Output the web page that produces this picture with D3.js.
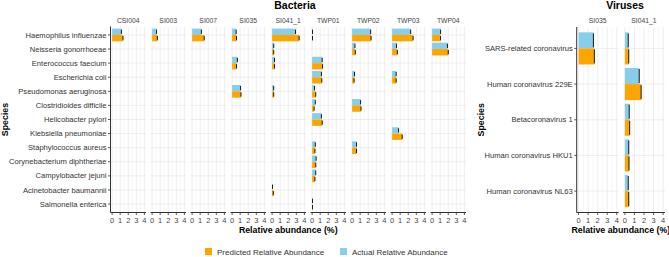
<!DOCTYPE html>
<html>
<head>
<meta charset="utf-8">
<script src="https://cdn.jsdelivr.net/npm/d3@7"></script>
<style>
  body { margin: 0; background: #fff; }
  svg { display: block; font-family: "Liberation Sans", Arial, sans-serif; }
</style>
</head>
<body>
<script>
// ---- data ----
const bacteriaSpecies = ["Haemophilus influenzae", "Neisseria gonorrhoeae", "Enterococcus faecium",
  "Escherichia coli", "Pseudomonas aeruginosa", "Clostridioides difficile", "Helicobacter pylori",
  "Klebsiella pneumoniae", "Staphylococcus aureus", "Corynebacterium diphtheriae",
  "Campylobacter jejuni", "Acinetobacter baumannii", "Salmonella enterica"];
const bacteriaSamples = ["CSI004", "SI003", "SI007", "SI035", "SI041_1", "TWP01", "TWP02", "TWP03", "TWP04"];
// one row per sample, one value per species (null = not detected)
const bacteriaActual = [
  [1.15, null, null, null, null, null, null, null, null, null, null, null, null],
  [0.55, null, null, null, null, null, null, null, null, null, null, null, null],
  [1.15, null, null, null, null, null, null, null, null, null, null, null, null],
  [0.5, null, 0.65, null, 1.05, null, null, null, null, null, null, null, null],
  [2.9, 0.2, 0.3, null, 0.2, null, null, null, null, null, null, 0.05, null],
  [0.05, null, 1.25, 1.15, 0.3, 0.4, 1.15, null, 0.4, 0.5, 0.45, null, 0.05],
  [2.3, 0.35, null, 0.3, null, 1.05, null, null, 0.55, null, null, null, null],
  [2.3, 0.55, null, 0.5, null, null, null, 0.8, null, null, null, null, null],
  [1.05, 1.9, null, null, null, null, null, null, null, null, null, null, null]
];
const bacteriaPredicted = [
  [1.35, null, null, null, null, null, null, null, null, null, null, null, null],
  [0.65, null, null, null, null, null, null, null, null, null, null, null, null],
  [1.5, null, null, null, null, null, null, null, null, null, null, null, null],
  [0.55, null, 0.55, null, 1.1, null, null, null, null, null, null, null, null],
  [3.35, 0.2, 0.3, null, 0.2, null, null, null, null, null, null, 0.15, null],
  [0.05, null, 1.3, 1.2, 0.45, 0.25, 1.25, null, 0.35, 0.45, 0.35, null, 0.05],
  [2.35, 0.4, null, 0.25, null, 1.1, null, null, 0.55, null, null, null, null],
  [2.6, 0.65, null, 0.5, null, null, null, 1.25, null, null, null, null, null],
  [1.05, 2.0, null, null, null, null, null, null, null, null, null, null, null]
];

const virusSpecies = ["SARS-related coronavirus", "Human coronavirus 229E", "Betacoronavirus 1",
  "Human coronavirus HKU1", "Human coronavirus NL63"];
const virusSamples = ["SI035", "SI041_1"];
const virusActual = [
  [1.55, null, null, null, null],
  [0.35, 1.5, 0.45, 0.4, 0.35]
];
const virusPredicted = [
  [1.65, null, null, null, null],
  [0.4, 1.7, 0.5, 0.43, 0.4]
];

const xTicks = [0, 1, 2, 3, 4];
const legendItems = ["Predicted Relative Abundance", "Actual Relative Abundance"];

// ---- drawing ----
const W = 669, H = 257;
const predColor = "#FFA500", actColor = "#87CEEB";
const textCol = "#444444", axisCol = "#333333";

const svg = d3.select("body").append("svg")
  .attr("width", W).attr("height", H);

function drawPanel(opt) {
  const { species, samples, actual, predicted, left, pitch, pw, top, bottom, title, titleX, yTitleX, labelFont } = opt;

  const y = d3.scalePoint().domain(species).range([top, bottom]).padding(0.6);
  const step = y.step();
  const bh = step * 0.45;
  const g = svg.append("g");

  samples.forEach((s, i) => {
    const x0 = left + pitch * i;
    const x = d3.scaleLinear().domain([-0.2, 4.2]).range([x0, x0 + pw]);
    const fg = g.append("g");

    // grid
    fg.selectAll("line.minor").data(d3.range(0.5, 4.5, 1)).join("line")
      .attr("x1", d => x(d)).attr("x2", d => x(d))
      .attr("y1", top).attr("y2", bottom)
      .attr("stroke", "#f2f2f2").attr("stroke-width", 0.6);
    fg.selectAll("line.vmaj").data(xTicks).join("line")
      .attr("x1", d => x(d)).attr("x2", d => x(d))
      .attr("y1", top).attr("y2", bottom)
      .attr("stroke", "#e8e8e8").attr("stroke-width", 0.8);
    fg.selectAll("line.hmaj").data(species).join("line")
      .attr("x1", x0).attr("x2", x0 + pw)
      .attr("y1", d => y(d)).attr("y2", d => y(d))
      .attr("stroke", "#e8e8e8").attr("stroke-width", 0.8);

    // bars
    const rows = species.map((sp, j) => ({ sp, a: actual[i][j], p: predicted[i][j] }));
    const drawBars = (key, color, off) => {
      const d = rows.filter(r => r[key] != null);
      fg.selectAll(null).data(d).join("rect")
        .attr("x", x(0))
        .attr("y", r => y(r.sp) + off)
        .attr("width", r => x(r[key]) - x(0))
        .attr("height", bh)
        .attr("fill", color);
      fg.selectAll(null).data(d).join("line")
        .attr("x1", r => x(r[key])).attr("x2", r => x(r[key]))
        .attr("y1", r => y(r.sp) + off + 1).attr("y2", r => y(r.sp) + off + bh - 1)
        .attr("stroke", "#1a1a1a").attr("stroke-width", 1);
    };
    drawBars("a", actColor, -bh);
    drawBars("p", predColor, 0);

    // x axis
    fg.append("line").attr("x1", x0).attr("x2", x0 + pw)
      .attr("y1", bottom).attr("y2", bottom)
      .attr("stroke", axisCol).attr("stroke-width", 1);
    fg.selectAll("line.tick").data(xTicks).join("line")
      .attr("x1", d => x(d)).attr("x2", d => x(d))
      .attr("y1", bottom).attr("y2", bottom + 2.5)
      .attr("stroke", axisCol).attr("stroke-width", 0.8);
    fg.selectAll("text.tick").data(xTicks).join("text")
      .attr("x", d => x(d)).attr("y", bottom + 10.5)
      .attr("text-anchor", "middle").attr("font-size", 7.5)
      .attr("fill", textCol).text(d => d);

    // strip label
    fg.append("text").attr("x", x0 + pw / 2).attr("y", 23)
      .attr("text-anchor", "middle").attr("font-size", 6.8)
      .attr("fill", textCol).text(s);
  });

  // y axis
  g.append("line").attr("x1", left).attr("x2", left)
    .attr("y1", top).attr("y2", bottom)
    .attr("stroke", axisCol).attr("stroke-width", 1);
  g.selectAll("line.ytick").data(species).join("line")
    .attr("x1", left - 2.5).attr("x2", left)
    .attr("y1", d => y(d)).attr("y2", d => y(d))
    .attr("stroke", axisCol).attr("stroke-width", 0.8);
  g.selectAll("text.ylab").data(species).join("text")
    .attr("x", left - 4).attr("y", d => y(d) + 2.6)
    .attr("text-anchor", "end").attr("font-size", labelFont)
    .attr("fill", "#333").text(d => d);

  // titles
  g.append("text").attr("x", titleX).attr("y", 9)
    .attr("text-anchor", "middle").attr("font-size", 10.5).attr("font-weight", "bold")
    .attr("fill", "#000").text(title);
  const axEnd = left + pitch * (samples.length - 1) + pw;
  g.append("text").attr("x", (left + axEnd) / 2).attr("y", 233)
    .attr("text-anchor", "middle").attr("font-size", 8.8).attr("font-weight", "bold")
    .attr("fill", "#000").text("Relative abundance (%)");
  g.append("text")
    .attr("transform", `translate(${yTitleX},${(top + bottom) / 2}) rotate(-90)`)
    .attr("text-anchor", "middle").attr("font-size", 8.8).attr("font-weight", "bold")
    .attr("fill", "#000").text("Species");
}

drawPanel({
  species: bacteriaSpecies, samples: bacteriaSamples,
  actual: bacteriaActual, predicted: bacteriaPredicted,
  left: 110.5, pitch: 40, pw: 35.5, top: 26.5, bottom: 212.5,
  title: "Bacteria", titleX: 295, yTitleX: 8, labelFont: 7.6
});
drawPanel({
  species: virusSpecies, samples: virusSamples,
  actual: virusActual, predicted: virusPredicted,
  left: 576.7, pitch: 46.3, pw: 42, top: 27, bottom: 212.5,
  title: "Viruses", titleX: 625, yTitleX: 484, labelFont: 7.6
});

// legend
const legend = svg.append("g");
const lx = [205, 340];
const lcol = [predColor, actColor];
legendItems.forEach((t, i) => {
  legend.append("rect").attr("x", lx[i]).attr("y", 248).attr("width", 7).attr("height", 7)
    .attr("fill", lcol[i]);
  legend.append("text").attr("x", lx[i] + 12).attr("y", 254.5)
    .attr("font-size", 8).attr("fill", "#333").text(t);
});
</script>
</body>
</html>
